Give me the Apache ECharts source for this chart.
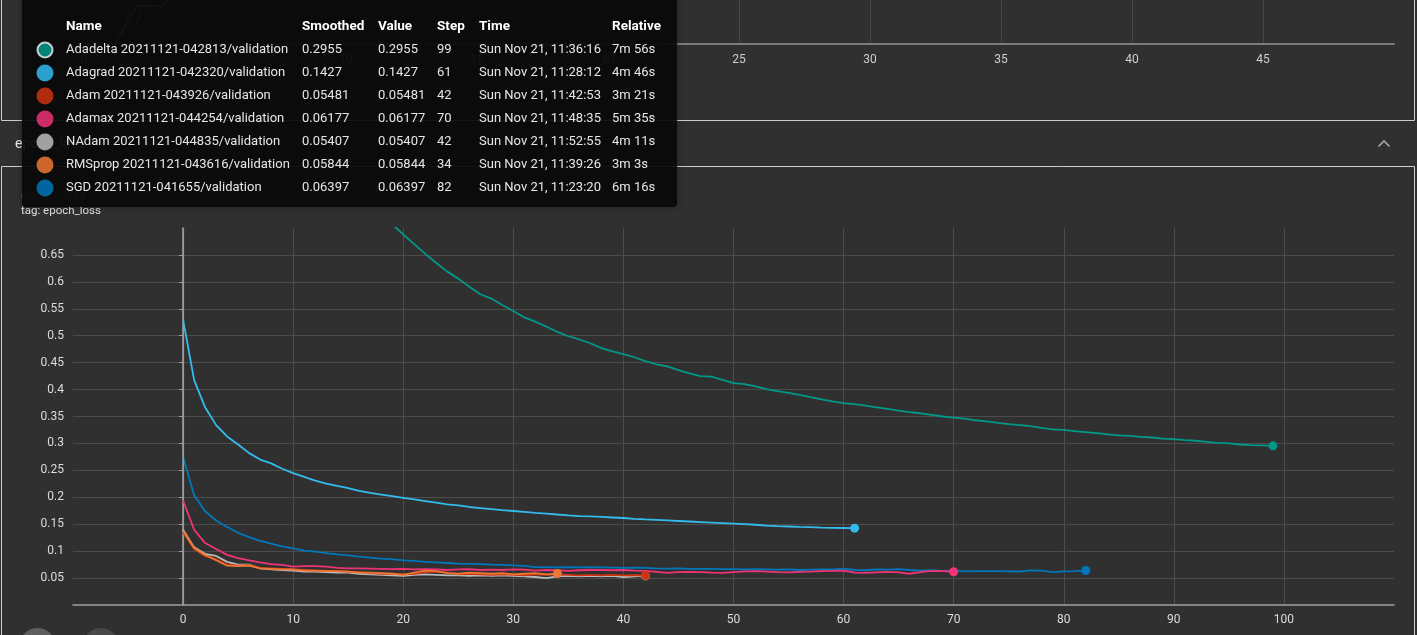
<!DOCTYPE html>
<html>
<head>
<meta charset="utf-8">
<style>
  html, body { margin: 0; padding: 0; background: #303030; }
  #main { width: 1417px; height: 635px; }
</style>
<script src="https://cdn.jsdelivr.net/npm/echarts@6/dist/echarts.min.js"></script>
</head>
<body>
<div id="main"></div>
<script>
// epoch_loss (validation) per step
const adadeltaLoss = [1.66, 1.53, 1.42, 1.33, 1.25, 1.18, 1.12, 1.07, 1.02, 0.98,
  0.94, 0.905, 0.872, 0.843, 0.816, 0.791, 0.768, 0.746, 0.726, 0.707,
  0.688, 0.670, 0.652, 0.635, 0.619, 0.606, 0.591, 0.577, 0.569, 0.557,
  0.546, 0.534, 0.526, 0.517, 0.507, 0.499, 0.493, 0.486, 0.477, 0.471,
  0.466, 0.460, 0.453, 0.447, 0.443, 0.436, 0.430, 0.425, 0.424, 0.418,
  0.412, 0.410, 0.406, 0.401, 0.397, 0.394, 0.390, 0.386, 0.382, 0.378,
  0.375, 0.373, 0.370, 0.367, 0.364, 0.361, 0.358, 0.356, 0.353, 0.350,
  0.348, 0.346, 0.343, 0.341, 0.338, 0.336, 0.334, 0.332, 0.329, 0.326,
  0.325, 0.323, 0.321, 0.319, 0.317, 0.315, 0.314, 0.312, 0.311, 0.309,
  0.308, 0.306, 0.305, 0.303, 0.301, 0.300, 0.298, 0.297, 0.2965, 0.2955];

const adagradLoss = [0.530, 0.418, 0.367, 0.334, 0.313, 0.298, 0.282, 0.270, 0.263, 0.253,
  0.245, 0.238, 0.231, 0.2255, 0.221, 0.217, 0.212, 0.208, 0.205, 0.202,
  0.199, 0.196, 0.193, 0.190, 0.187, 0.185, 0.182, 0.180, 0.178, 0.176,
  0.1745, 0.173, 0.171, 0.1697, 0.168, 0.1665, 0.1652, 0.1645, 0.1635, 0.1625,
  0.1615, 0.1598, 0.1588, 0.158, 0.157, 0.156, 0.155, 0.154, 0.153, 0.152,
  0.151, 0.150, 0.149, 0.1475, 0.1465, 0.1458, 0.145, 0.1445, 0.1438, 0.1432,
  0.143, 0.1427];

const adamLoss = [0.135, 0.104, 0.091, 0.085, 0.075, 0.073, 0.074, 0.069, 0.068, 0.067,
  0.066, 0.065, 0.064, 0.064, 0.063, 0.062, 0.061, 0.059, 0.058, 0.058,
  0.057, 0.058, 0.061, 0.062, 0.060, 0.057, 0.058, 0.057, 0.056, 0.057,
  0.056, 0.055, 0.057, 0.056, 0.057, 0.056, 0.055, 0.056, 0.055, 0.056,
  0.055, 0.0555, 0.05481];

const adamaxLoss = [0.194, 0.140, 0.115, 0.104, 0.093, 0.087, 0.083, 0.079, 0.076, 0.0745,
  0.0712, 0.072, 0.072, 0.0712, 0.069, 0.068, 0.068, 0.0675, 0.067, 0.0665,
  0.067, 0.066, 0.0665, 0.066, 0.065, 0.066, 0.0665, 0.065, 0.0655, 0.065,
  0.066, 0.0655, 0.064, 0.065, 0.0645, 0.0635, 0.0645, 0.065, 0.065, 0.0645,
  0.065, 0.064, 0.0635, 0.0615, 0.0595, 0.061, 0.0615, 0.061, 0.060, 0.0595,
  0.061, 0.0625, 0.063, 0.062, 0.061, 0.0605, 0.0615, 0.062, 0.063, 0.0635,
  0.064, 0.060, 0.0595, 0.0605, 0.0615, 0.0605, 0.058, 0.061, 0.0635, 0.063,
  0.06177];

const nadamLoss = [0.140, 0.107, 0.095, 0.091, 0.080, 0.075, 0.075, 0.068, 0.066, 0.065,
  0.064, 0.062, 0.062, 0.061, 0.060, 0.060, 0.058, 0.057, 0.056, 0.055,
  0.054, 0.056, 0.057, 0.056, 0.055, 0.055, 0.054, 0.055, 0.054, 0.055,
  0.054, 0.053, 0.052, 0.050, 0.053, 0.054, 0.053, 0.054, 0.053, 0.054,
  0.052, 0.053, 0.05407];

const rmspropLoss = [0.138, 0.106, 0.093, 0.083, 0.073, 0.072, 0.073, 0.068, 0.067, 0.066,
  0.066, 0.064, 0.064, 0.063, 0.063, 0.062, 0.060, 0.060, 0.059, 0.058,
  0.056, 0.060, 0.064, 0.063, 0.059, 0.058, 0.060, 0.059, 0.058, 0.059,
  0.057, 0.058, 0.059, 0.057, 0.05844];

const sgdLoss = [0.275, 0.204, 0.174, 0.157, 0.145, 0.134, 0.126, 0.119, 0.114, 0.109,
  0.105, 0.101, 0.099, 0.0965, 0.094, 0.092, 0.090, 0.088, 0.086, 0.085,
  0.083, 0.082, 0.080, 0.079, 0.078, 0.077, 0.0765, 0.076, 0.075, 0.0745,
  0.0735, 0.0725, 0.0705, 0.0705, 0.070, 0.0705, 0.070, 0.0705, 0.070, 0.0695,
  0.069, 0.0692, 0.069, 0.068, 0.0675, 0.068, 0.067, 0.0672, 0.067, 0.0665,
  0.0667, 0.066, 0.0665, 0.066, 0.0655, 0.066, 0.065, 0.0655, 0.066, 0.066,
  0.0675, 0.065, 0.0645, 0.066, 0.0655, 0.0665, 0.065, 0.064, 0.0645, 0.0635,
  0.0638, 0.0625, 0.063, 0.0628, 0.063, 0.0625, 0.0622, 0.0643, 0.064, 0.061,
  0.0625, 0.063, 0.06397];

// bits of the accuracy chart above that show through the tooltip ([step, value])
const topAdam = [[1, -0.97], [2, 1.43]];
const topRmsprop = [[2, 0.44], [3, 2.1]];
const topNadam = [[1, -0.2], [2, 0.86], [3, 0.86], [4, 1.5]];
const topAdamax = [[3, -0.4], [4, 0.8], [5, 2.0]];
const topSgd = [[12, -0.05], [13, 0.55], [14, 0.16], [15, 1.2]];

// tooltip table
const runNames = ['Adadelta 20211121-042813/validation', 'Adagrad 20211121-042320/validation',
  'Adam 20211121-043926/validation', 'Adamax 20211121-044254/validation',
  'NAdam 20211121-044835/validation', 'RMSprop 20211121-043616/validation',
  'SGD 20211121-041655/validation'];
const smoothedVals = ['0.2955', '0.1427', '0.05481', '0.06177', '0.05407', '0.05844', '0.06397'];
const rawVals = ['0.2955', '0.1427', '0.05481', '0.06177', '0.05407', '0.05844', '0.06397'];
const lastSteps = ['99', '61', '42', '70', '42', '34', '82'];
const wallTimes = ['Sun Nov 21, 11:36:16', 'Sun Nov 21, 11:28:12', 'Sun Nov 21, 11:42:53',
  'Sun Nov 21, 11:48:35', 'Sun Nov 21, 11:52:55', 'Sun Nov 21, 11:39:26', 'Sun Nov 21, 11:23:20'];
const relTimes = ['7m 56s', '4m 46s', '3m 21s', '5m 35s', '4m 11s', '3m 3s', '6m 16s'];
const tipHeaders = ['Name', 'Smoothed', 'Value', 'Step', 'Time', 'Relative'];

const palette = ['#009988', '#33bbee', '#cc3311', '#ee3377', '#bbbbbb', '#ee7733', '#0077bb'];
// draw order of the runs (later on top)
const runZ = [3, 4, 7, 5, 6, 8, 4.5];
const FONT = 'Roboto, "Noto Sans", sans-serif';

const lossRuns = [adadeltaLoss, adagradLoss, adamLoss, adamaxLoss, nadamLoss, rmspropLoss, sgdLoss];

function lossSeries(values, idx) {
    const pts = values.map((v, i) => [i, v]);
    const last = pts[pts.length - 1];
    const s = {
        type: 'line',
        xAxisIndex: 1,
        yAxisIndex: 1,
        data: pts,
        showSymbol: false,
        silent: true,
        clip: true,
        lineStyle: { color: palette[idx], width: 1.8 },
        itemStyle: { color: palette[idx] },
        markPoint: {
            symbol: 'circle',
            symbolSize: 9,
            silent: true,
            z: 10 + runZ[idx],
            label: { show: false },
            itemStyle: { color: palette[idx] },
            data: [{ coord: last }]
        },
        z: runZ[idx]
    };
    if (idx === 0) {
        // zero line on the step axis
        s.markLine = {
            silent: true,
            symbol: 'none',
            label: { show: false },
            lineStyle: { color: '#9a9a9a', type: 'solid', width: 1.2 },
            data: [{ xAxis: 0 }]
        };
    }
    return s;
}

function topSeries(pts, color) {
    return {
        type: 'line',
        xAxisIndex: 0,
        yAxisIndex: 0,
        data: pts,
        showSymbol: false,
        silent: true,
        clip: true,
        z: 2,
        lineStyle: { color: color, width: 1.5 }
    };
}

function tooltipGraphic() {
    const colX = [66, 302, 378, 437, 479, 612];
    const children = [{
        type: 'rect',
        shape: { x: 22, y: -6, width: 655, height: 213, r: 4 },
        style: { fill: 'rgba(9,9,9,0.9)', shadowBlur: 6, shadowColor: 'rgba(0,0,0,0.4)' }
    }];
    tipHeaders.forEach((h, c) => {
        children.push({
            type: 'text', x: colX[c], y: 27,
            style: { text: h, fill: '#ffffff', font: 'bold 13.5px ' + FONT, verticalAlign: 'middle' }
        });
    });
    runNames.forEach((name, r) => {
        const y = 50 + r * 23;
        children.push({
            type: 'circle',
            shape: { cx: 45, cy: y, r: r === 0 ? 7.5 : 8.5 },
            style: r === 0
                ? { fill: palette[r], stroke: '#e8e8e8', lineWidth: 2, opacity: 0.85 }
                : { fill: palette[r], opacity: 0.85 }
        });
        const cells = [name, smoothedVals[r], rawVals[r], lastSteps[r], wallTimes[r], relTimes[r]];
        cells.forEach((t, c) => {
            children.push({
                type: 'text', x: colX[c], y: y,
                style: { text: t, fill: '#e6e6e6', font: '13px ' + FONT, verticalAlign: 'middle' }
            });
        });
    });
    children.forEach(ch => { ch.z = 100; });
    return children;
}

const chart = echarts.init(document.getElementById('main'));

const option = {
    backgroundColor: '#303030',
    animation: false,
    textStyle: { fontFamily: FONT },
    grid: [
        { left: 84, right: 23, top: 0, height: 44 },
        { left: 73, right: 23, top: 228, bottom: 30 }
    ],
    xAxis: [
        {
            gridIndex: 0, type: 'value', min: 0, max: 50, interval: 5,
            axisLine: { lineStyle: { color: '#7a7a7a', width: 2 } },
            axisTick: { show: false },
            axisLabel: { color: '#cfcfcf', fontSize: 12, margin: 10, showMaxLabel: false },
            splitLine: { show: true, showMaxLine: false, lineStyle: { color: '#474747', width: 1 } }
        },
        {
            gridIndex: 1, type: 'value', min: -10, max: 110, interval: 10,
            axisLine: { onZero: false, lineStyle: { color: '#a0a0a0', width: 1.5 } },
            axisTick: { show: false },
            axisLabel: { color: '#dcdcdc', fontSize: 12, margin: 9, showMinLabel: false, showMaxLabel: false },
            splitLine: { show: true, showMinLine: false, showMaxLine: false, lineStyle: { color: '#4c4c4c', width: 1 } }
        }
    ],
    yAxis: [
        { gridIndex: 0, type: 'value', min: 0, max: 1, show: false },
        {
            gridIndex: 1, type: 'value', min: 0, max: 0.7, interval: 0.05,
            axisLine: { show: true, lineStyle: { color: '#a0a0a0', width: 1.5 } },
            axisTick: { show: true, length: 4, lineStyle: { color: '#a0a0a0' } },
            axisLabel: { color: '#dcdcdc', fontSize: 12, margin: 9, showMinLabel: false, showMaxLabel: false },
            splitLine: { show: true, showMinLine: false, showMaxLine: false, lineStyle: { color: '#4c4c4c', width: 1 } }
        }
    ],
    series: [
        topSeries(topAdam, palette[2]),
        topSeries(topRmsprop, palette[5]),
        topSeries(topNadam, palette[4]),
        topSeries(topAdamax, palette[3]),
        topSeries(topSgd, palette[6])
    ].concat(lossRuns.map(lossSeries)),
    graphic: [
        // card outlines
        { type: 'rect', z: 0, shape: { x: 1.5, y: -5, width: 1413, height: 125.5 },
          style: { fill: null, stroke: '#cfcfcf', lineWidth: 1 } },
        { type: 'rect', z: 0, shape: { x: 1.5, y: 166.5, width: 1413, height: 500 },
          style: { fill: null, stroke: '#cfcfcf', lineWidth: 1 } },
        { type: 'text', z: 1, x: 15, y: 144,
          style: { text: 'epoch_loss', fill: '#e8e8e8', font: '14px ' + FONT, verticalAlign: 'middle' } },
        { type: 'polyline', z: 1, shape: { points: [[1378.5, 146.5], [1384, 141], [1389.5, 146.5]] },
          style: { stroke: '#a8a8a8', lineWidth: 1.6, fill: null } },
        { type: 'text', z: 1, x: 21, y: 196,
          style: { text: 'epoch_loss', fill: '#9a9a9a', font: '13px ' + FONT, verticalAlign: 'middle' } },
        { type: 'text', z: 1, x: 21, y: 211,
          style: { text: 'tag: epoch_loss', fill: '#e0e0e0', font: '11.5px ' + FONT, verticalAlign: 'middle' } },
        // buttons under the chart
        { type: 'circle', z: 1, shape: { cx: 37.5, cy: 646, r: 18 }, style: { fill: '#5e5e5e' } },
        { type: 'circle', z: 1, shape: { cx: 101, cy: 646, r: 18 }, style: { fill: '#484848' } },
        // hover button of the upper card, mostly hidden by the tooltip
        { type: 'circle', z: 1, shape: { cx: 40, cy: 85, r: 16 }, style: { fill: '#3c3c3c' } }
    ].concat(tooltipGraphic())
};

chart.setOption(option);
</script>
</body>
</html>
